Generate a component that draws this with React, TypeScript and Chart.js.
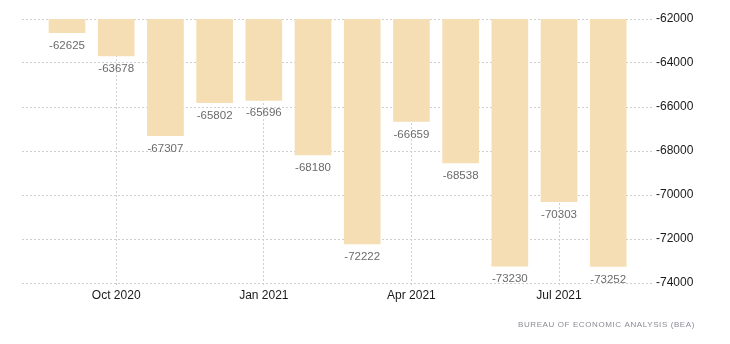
import React, { useEffect, useRef } from "react";
import { Chart, registerables } from "chart.js";

Chart.register(...registerables);

const months = ["Sep 2020", "Oct 2020", "Nov 2020", "Dec 2020", "Jan 2021", "Feb 2021", "Mar 2021", "Apr 2021", "May 2021", "Jun 2021", "Jul 2021", "Aug 2021"];
const values = [-62625, -63678, -67307, -65802, -65696, -68180, -72222, -66659, -68538, -73230, -70303, -73252];
const tickIndexes = [1, 4, 7, 10];
const yTicks = [-62000, -64000, -66000, -68000, -70000, -72000, -74000];
const sourceText = "BUREAU OF ECONOMIC ANALYSIS (BEA)";

const FONT = "'Liberation Sans', Arial, sans-serif";

const labelPlugin = {
  id: "valueLabels",
  afterDatasetsDraw(chart: any) {
    const ctx = chart.ctx;
    const meta = chart.getDatasetMeta(0);
    ctx.save();
    ctx.font = `11.5px ${FONT}`;
    ctx.fillStyle = "#6b6b6b";
    ctx.textAlign = "center";
    ctx.textBaseline = "middle";
    meta.data.forEach((el: any, i: number) => {
      ctx.fillText(String(values[i]), el.x, el.y + 13);
    });
    ctx.restore();
  },
  afterDraw(chart: any) {
    const ctx = chart.ctx;
    ctx.save();
    ctx.font = `8px ${FONT}`;
    ctx.fillStyle = "#8a8a96";
    ctx.textAlign = "right";
    ctx.textBaseline = "middle";
    try { (ctx as any).letterSpacing = "0.6px"; } catch (e) {}
    ctx.fillText(sourceText, 695, 325);
    ctx.restore();
  },
};

export default function App() {
  const ref = useRef<HTMLCanvasElement>(null);
  useEffect(() => {
    if (!ref.current) return;
    const chart = new Chart(ref.current, {
      type: "bar",
      data: {
        datasets: [
          {
            data: values.map((v, i) => ({ x: i, y: v })),
            backgroundColor: "#F5DEB3",
            borderWidth: 0,
            barThickness: 36,
          },
        ],
      },
      options: {
        responsive: false,
        animation: false,
        layout: { padding: { left: 22, top: 19, right: 0, bottom: 0 } },
        plugins: { legend: { display: false }, tooltip: { enabled: false } },
        scales: {
          x: {
            type: "linear",
            min: -0.915,
            max: 11.91,
            offset: false,
            border: { display: false, dash: [2, 2] },
            grid: {
              offset: false,
              color: "#cfcfcf",
              tickBorderDash: [2, 2],
              tickLength: 4,
              tickColor: "#cfcfcf",
            },
            afterBuildTicks: (scale: any) => {
              scale.ticks = tickIndexes.map((v) => ({ value: v }));
            },
            afterFit: (scale: any) => {
              scale.height = 61;
            },
            ticks: {
              autoSkip: false,
              maxRotation: 0,
              padding: 1,
              color: "#1a1a1a",
              font: { family: FONT, size: 12 },
              callback: (v: any) => months[Math.round(Number(v))],
            },
          },
          y: {
            position: "right",
            min: -74000,
            max: -62000,
            border: { display: false, dash: [2, 2] },
            grid: { color: "#cfcfcf", drawTicks: false },
            afterBuildTicks: (scale: any) => {
              scale.ticks = yTicks.map((v) => ({ value: v }));
            },
            afterFit: (scale: any) => {
              scale.width = 77;
            },
            ticks: {
              padding: 3,
              color: "#1a1a1a",
              font: { family: FONT, size: 12 },
              callback: (v: any) => String(v),
            },
          },
        },
      },
      plugins: [labelPlugin],
    });
    return () => chart.destroy();
  }, []);
  return (
    <div style={{ position: "fixed", left: 0, top: 0, width: 730, height: 344, background: "#fff" }}>
      <canvas ref={ref} width={730} height={344} />
    </div>
  );
}
